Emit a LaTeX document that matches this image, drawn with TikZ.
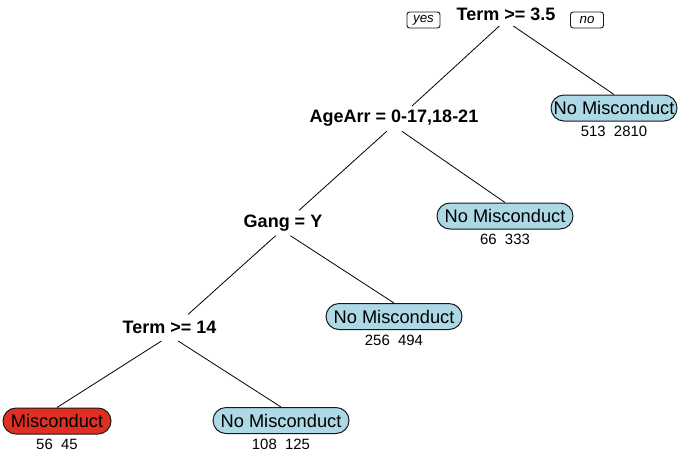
\documentclass[tikz,border=0pt]{standalone}
\usepackage{fontspec}
\setmainfont{Liberation Sans}
\usepackage{tikz}
\usetikzlibrary{positioning}
\usepackage{xcolor}
\definecolor{leafblue}{RGB}{173,216,230}
\definecolor{leafred}{RGB}{224,46,34}

\begin{document}
\begin{tikzpicture}[x=0.75pt, y=-0.75pt,
    split/.style={font=\fontsize{13.5}{16}\selectfont\bfseries, inner sep=0pt, anchor=base},
    leafbox/.style={draw=black!90, line width=0.75pt, rounded corners=9.75pt, minimum width=102pt,
                    minimum height=19.5pt, inner sep=0pt, font=\fontsize{13.7}{16}\selectfont},
    count/.style={font=\fontsize{11.2}{13}\selectfont, inner sep=0pt, below=3.5pt of #1},
    tag/.style={draw=black!90, line width=0.7pt, rounded corners=2pt, font=\fontsize{10}{12}\selectfont\itshape,
                minimum width=24.75pt, minimum height=12pt, inner sep=0pt},
    branch/.style={black, line width=0.6pt}]
    \useasboundingbox (0,0) rectangle (680,458);

    % Split-Knoten
    \node[split] (root) at (506,20) {Term >= 3.5};
    \node[split] (age) at (394,122) {AgeArr = 0-17,18-21};
    \node[split] (gang) at (283,227) {Gang = Y};
    \node[split] (t14) at (169.5,333) {Term >= 14};

    \node[tag] (yes) at (423.5,20) {yes};
    \node[tag] (no) at (587,20) {no};

    % Blaetter
    \node[leafbox, fill=leafblue, minimum width=94.5pt] (l1) at (614,108) {No Misconduct};
    \node[leafbox, fill=leafblue] (l2) at (505,216) {No Misconduct};
    \node[leafbox, fill=leafblue] (l3) at (394,316.5) {No Misconduct};
    \node[leafbox, fill=leafred, minimum width=81pt] (misc) at (57,421) {Misconduct};
    \node[leafbox, fill=leafblue] (l4) at (281,420.5) {No Misconduct};

    \node[count=l1] (n1) {513\ \ 2810};
    \node[count=l2] (n2) {66\ \ 333};
    \node[count=l3] (n3) {256\ \ 494};
    \node[count=misc] (n4) {56\ \ 45};
    \node[count=l4] (n5) {108\ \ 125};

    % Kanten
    \draw[branch] ([xshift=-5pt,yshift=-4.5pt]root.base) -- ([xshift=13.5pt,yshift=12pt]age.base);
    \draw[branch] ([xshift=5.5pt,yshift=-4.5pt]root.base) -- (l1.north);
    \draw[branch] ([xshift=-5.5pt,yshift=-7pt]age.base) -- ([xshift=12pt,yshift=12.5pt]gang.base);
    \draw[branch] ([xshift=6pt,yshift=-7pt]age.base) -- (l2.north);
    \draw[branch] ([xshift=-5.5pt,yshift=-6.5pt]gang.base) -- ([xshift=14pt,yshift=14pt]t14.base);
    \draw[branch] ([xshift=5.5pt,yshift=-6.5pt]gang.base) -- (l3.north);
    \draw[branch] ([xshift=-6pt,yshift=-6pt]t14.base) -- (misc.north);
    \draw[branch] ([xshift=6.5pt,yshift=-6pt]t14.base) -- (l4.north);
\end{tikzpicture}
\end{document}
